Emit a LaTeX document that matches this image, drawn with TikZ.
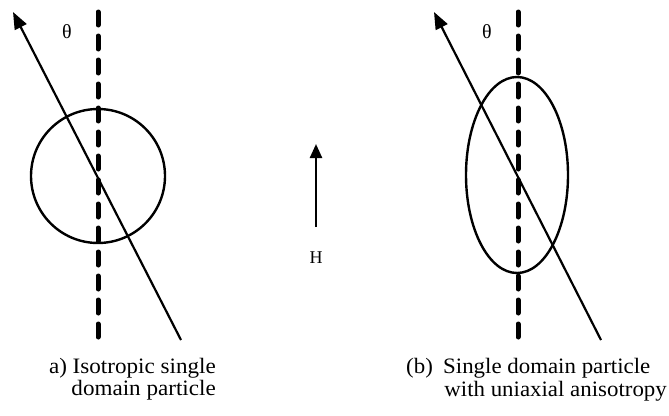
\documentclass[tikz,border=0pt]{standalone}
\usepackage{fontspec}
\setmainfont{Liberation Serif}
\newfontfamily\capafont[FakeStretch=1.05]{Liberation Serif}
\newfontfamily\capbfont[FakeStretch=1.04]{Liberation Serif}
\usetikzlibrary{arrows.meta,shapes.geometric}
\begin{document}
\begin{tikzpicture}[x=1pt,y=-1pt,
  axisline/.style={line width=5pt, line cap=round, dash pattern=on 13pt off 11pt},
  moment/.style={line width=2.2pt, -{Triangle[length=17pt,width=13pt]}},
  particle/.style={line width=2.4pt},
  capa/.style={inner sep=0pt, font=\capafont\fontsize{22}{22}\selectfont},
  capb/.style={inner sep=0pt, font=\capbfont\fontsize{22}{22}\selectfont},
  symtxt/.style={inner sep=0pt, font=\fontsize{20}{20}\selectfont}]
\useasboundingbox (0,0) rectangle (669,415);
% left figure
\coordinate (la1) at (98,12);
\coordinate (la2) at (98,337);
\draw[axisline] (la1) -- (la2);
\node[particle, draw, circle, minimum size=134pt, inner sep=0pt] (lc) at (98,176) {};
\coordinate (lm1) at (181,340);
\coordinate (lm2) at (13,12);
\draw[moment] (lm1) -- (lm2);
\node[symtxt] (lth) at (67,32) {θ};
% H field
\coordinate (h1) at (316,227);
\coordinate (h2) at (316,144);
\draw[line width=2.4pt, -{Triangle[length=14pt,width=12pt]}] (h1) -- (h2);
\node[symtxt, font=\fontsize{18}{18}\selectfont] (hl) at (316,258) {H};
% right figure
\coordinate (ra1) at (518,12);
\coordinate (ra2) at (518,337);
\draw[axisline] (ra1) -- (ra2);
\node[particle, draw, ellipse, minimum width=102pt, minimum height=196pt, inner sep=0pt] (re) at (517,175) {};
\coordinate (rm1) at (601,340);
\coordinate (rm2) at (434,12);
\draw[moment] (rm1) -- (rm2);
\node[symtxt] (rth) at (487,32) {θ};
% captions
\node[capa, anchor=base east] (ca1) at (216,373) {a) Isotropic single};
\node[capa, anchor=base east] (ca2) at (216,395) {domain particle};
\node[capb, anchor=base west] (cb0) at (406,373) {(b)};
\node[capb, anchor=base west] (cb1) at (443,373) {Single domain particle};
\node[capb, anchor=base east] (cb2) at (667,396) {with uniaxial anisotropy};
\end{tikzpicture}
\end{document}
